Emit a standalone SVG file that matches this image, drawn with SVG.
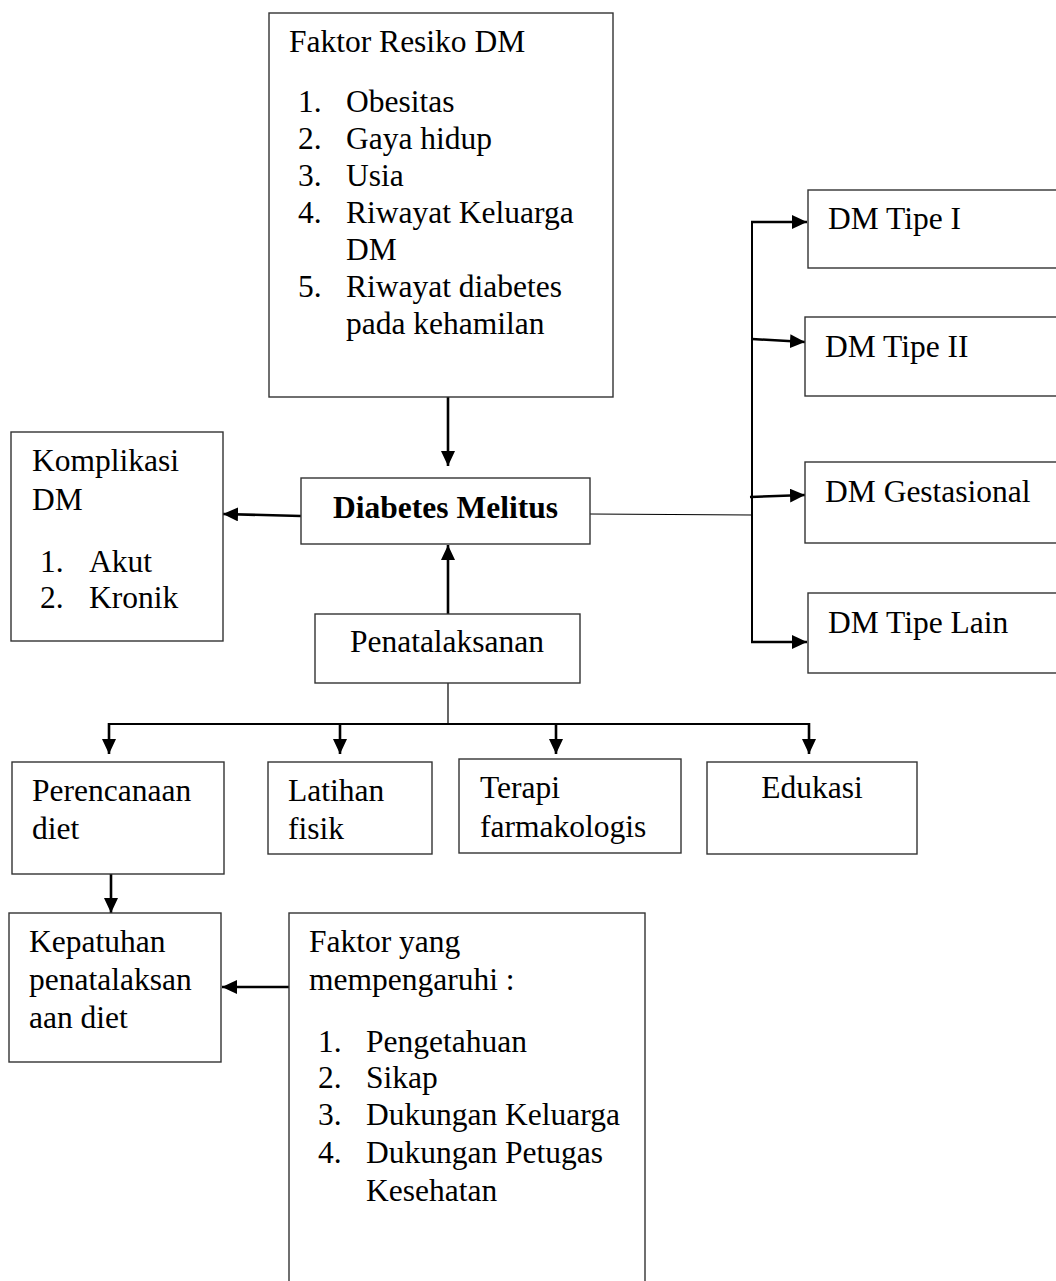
<svg xmlns="http://www.w3.org/2000/svg" width="1056" height="1281" viewBox="0 0 1056 1281">
<style>
.box{fill:#fff;stroke:#333;stroke-width:1.4}
.t{font-family:"Liberation Serif","Times New Roman",serif;font-size:31.5px;fill:#000}
.b{font-weight:bold}
.c{text-anchor:middle}
.a{stroke:#000;stroke-width:2.6;fill:none;marker-end:url(#ah)}
.l{stroke:#000;stroke-width:2;fill:none}
.thin{stroke:#000;stroke-width:1.2;fill:none}
</style>
<defs>
<marker id="ah" markerUnits="userSpaceOnUse" markerWidth="16" markerHeight="14" refX="15" refY="7" orient="auto">
<path d="M0,0 L15,7 L0,14 z" fill="#000"/>
</marker>
</defs>
<rect width="1056" height="1281" fill="#fff"/>
<g id="connectors">
<line class="a" x1="448" y1="397" x2="448" y2="466"/>
<line class="a" x1="301" y1="516" x2="223" y2="514"/>
<line class="a" x1="448" y1="614" x2="448" y2="545"/>
<line class="thin" x1="590" y1="514" x2="752" y2="515"/>
<line class="l" x1="752" y1="221" x2="752" y2="643"/>
<line class="a" x1="751" y1="222" x2="807" y2="222"/>
<line class="a" x1="752" y1="339" x2="805" y2="342"/>
<line class="a" x1="750" y1="497" x2="805" y2="495"/>
<line class="a" x1="751" y1="642" x2="807" y2="642"/>
<line class="thin" x1="448" y1="683" x2="448" y2="724"/>
<line class="l" x1="109" y1="724" x2="810" y2="724"/>
<line class="a" x1="109" y1="723" x2="109" y2="754"/>
<line class="a" x1="340" y1="723" x2="340" y2="754"/>
<line class="a" x1="556" y1="723" x2="556" y2="754"/>
<line class="a" x1="809" y1="723" x2="809" y2="754"/>
<line class="a" x1="111" y1="874" x2="111" y2="913"/>
<line class="a" x1="289" y1="987" x2="222" y2="987"/>
</g>
<g id="faktor-resiko">
<rect class="box" x="269" y="13" width="344" height="384"/>
<text class="t" x="289" y="52">Faktor Resiko DM</text>
<text class="t" x="298" y="112">1.</text><text class="t" x="346" y="112">Obesitas</text>
<text class="t" x="298" y="149">2.</text><text class="t" x="346" y="149">Gaya hidup</text>
<text class="t" x="298" y="186">3.</text><text class="t" x="346" y="186">Usia</text>
<text class="t" x="298" y="223">4.</text><text class="t" x="346" y="223">Riwayat Keluarga</text>
<text class="t" x="346" y="260">DM</text>
<text class="t" x="298" y="297">5.</text><text class="t" x="346" y="297">Riwayat diabetes</text>
<text class="t" x="346" y="334">pada kehamilan</text>
</g>
<g id="komplikasi">
<rect class="box" x="11" y="432" width="212" height="209"/>
<text class="t" x="32" y="471">Komplikasi</text>
<text class="t" x="32" y="510">DM</text>
<text class="t" x="40" y="572">1.</text><text class="t" x="89" y="572">Akut</text>
<text class="t" x="40" y="608">2.</text><text class="t" x="89" y="608">Kronik</text>
</g>
<g id="diabetes-melitus">
<rect class="box" x="301" y="478" width="289" height="66"/>
<text class="t b c" x="445.5" y="518">Diabetes Melitus</text>
</g>
<g id="penatalaksanan">
<rect class="box" x="315" y="614" width="265" height="69"/>
<text class="t c" x="447" y="652">Penatalaksanan</text>
</g>
<g id="dm-tipe-1">
<rect class="box" x="808" y="190" width="260" height="78"/>
<text class="t" x="828" y="229">DM Tipe I</text>
</g>
<g id="dm-tipe-2">
<rect class="box" x="805" y="317" width="260" height="79"/>
<text class="t" x="825" y="357">DM Tipe II</text>
</g>
<g id="dm-gestasional">
<rect class="box" x="805" y="462" width="260" height="81"/>
<text class="t" x="825" y="502">DM Gestasional</text>
</g>
<g id="dm-tipe-lain">
<rect class="box" x="808" y="593" width="260" height="80"/>
<text class="t" x="828" y="633">DM Tipe Lain</text>
</g>
<g id="perencanaan">
<rect class="box" x="12" y="762" width="212" height="112"/>
<text class="t" x="32" y="801">Perencanaan</text>
<text class="t" x="32" y="839">diet</text>
</g>
<g id="latihan">
<rect class="box" x="268" y="762" width="164" height="92"/>
<text class="t" x="288" y="801">Latihan</text>
<text class="t" x="288" y="839">fisik</text>
</g>
<g id="terapi">
<rect class="box" x="459" y="759" width="222" height="94"/>
<text class="t" x="480" y="798">Terapi</text>
<text class="t" x="480" y="837">farmakologis</text>
</g>
<g id="edukasi">
<rect class="box" x="707" y="762" width="210" height="92"/>
<text class="t c" x="812" y="798">Edukasi</text>
</g>
<g id="kepatuhan">
<rect class="box" x="9" y="913" width="212" height="149"/>
<text class="t" x="29" y="952">Kepatuhan</text>
<text class="t" x="29" y="990">penatalaksan</text>
<text class="t" x="29" y="1028">aan diet</text>
</g>
<g id="faktor-yang">
<rect class="box" x="289" y="913" width="356" height="380"/>
<text class="t" x="309" y="952">Faktor yang</text>
<text class="t" x="309" y="990">mempengaruhi :</text>
<text class="t" x="318" y="1052">1.</text><text class="t" x="366" y="1052">Pengetahuan</text>
<text class="t" x="318" y="1088">2.</text><text class="t" x="366" y="1088">Sikap</text>
<text class="t" x="318" y="1125">3.</text><text class="t" x="366" y="1125">Dukungan Keluarga</text>
<text class="t" x="318" y="1163">4.</text><text class="t" x="366" y="1163">Dukungan Petugas</text>
<text class="t" x="366" y="1201">Kesehatan</text>
</g>
</svg>
